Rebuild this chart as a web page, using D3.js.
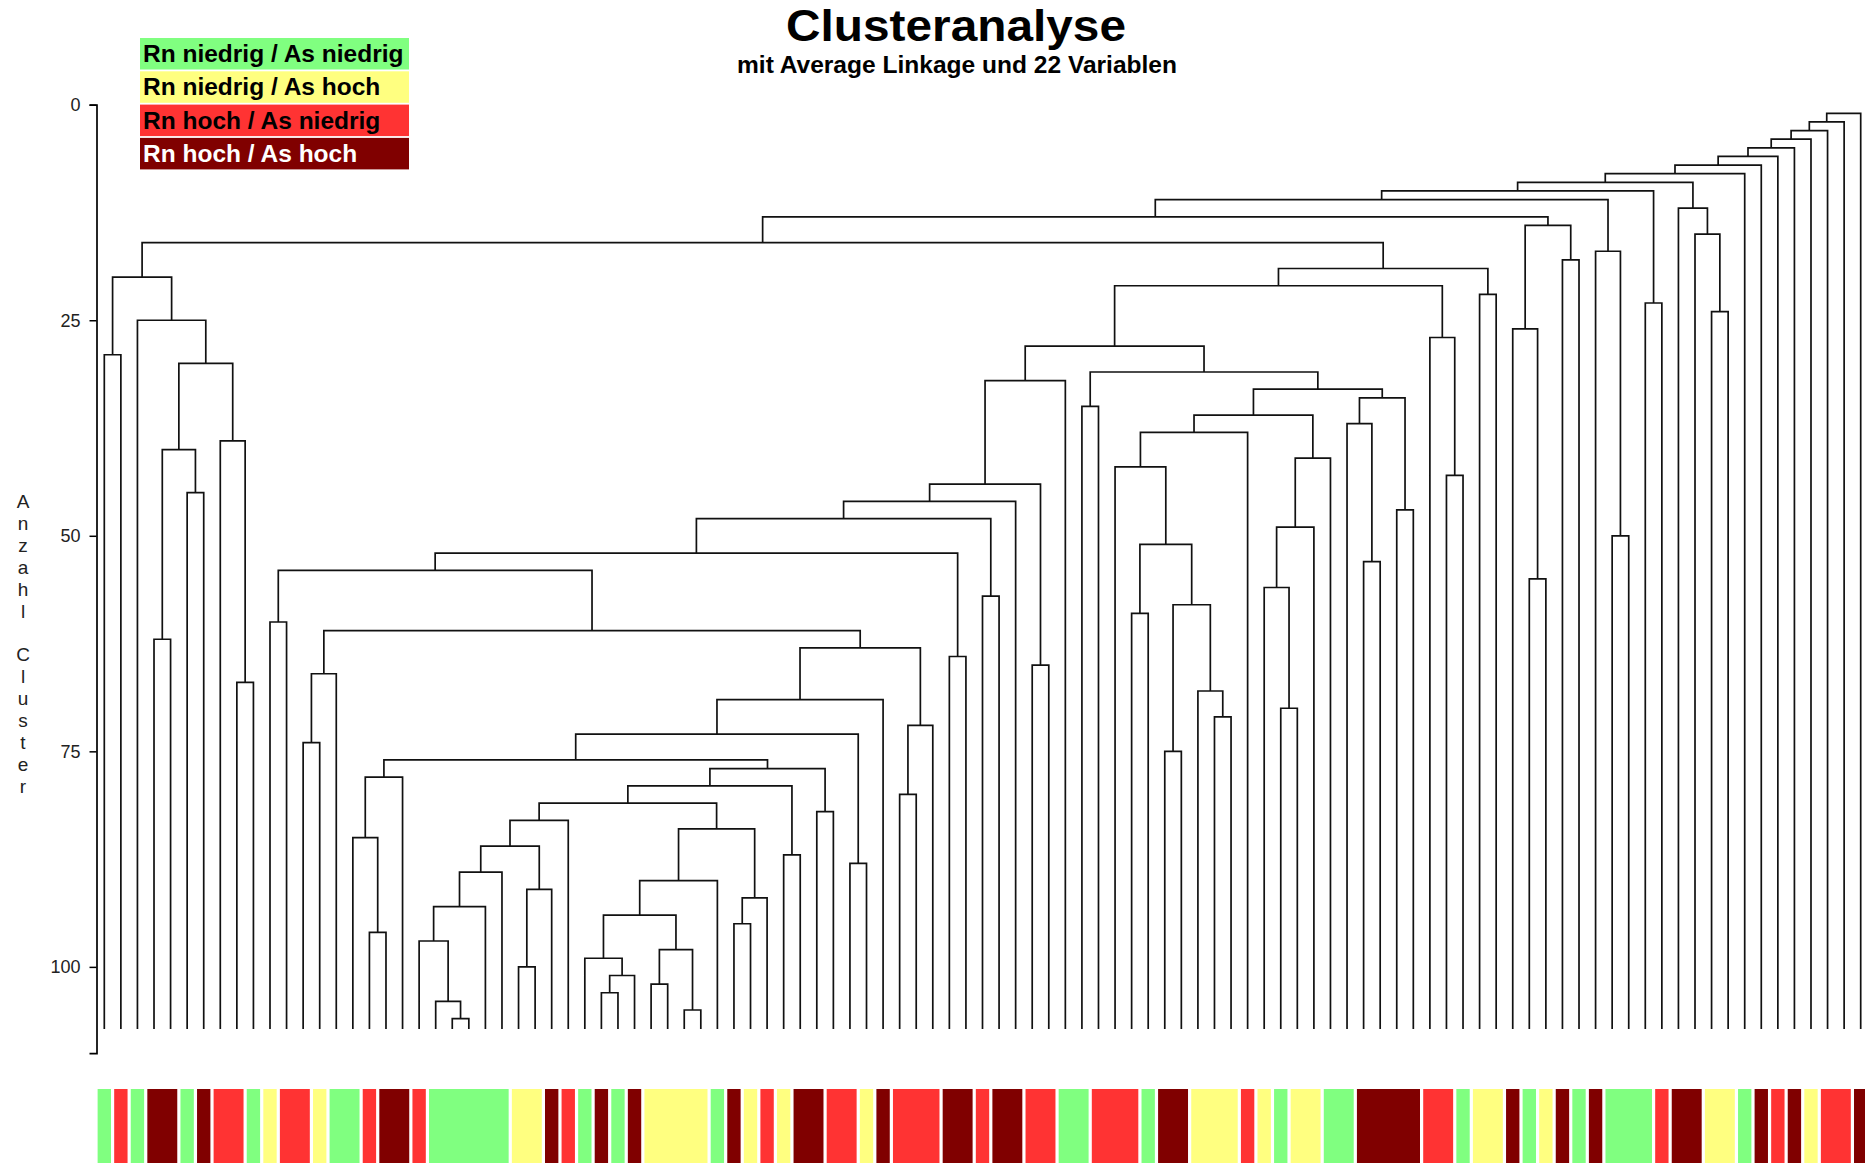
<!DOCTYPE html>
<html>
<head>
<meta charset="utf-8">
<script src="https://cdn.jsdelivr.net/npm/d3@7"></script>
<style>
  body { margin: 0; background: #fff; }
  svg { display: block; font-family: "Liberation Sans", Arial, sans-serif; }
</style>
</head>
<body>
<div class="my-graph"></div>
<script>
const categories = ['Rn niedrig / As niedrig', 'Rn niedrig / As hoch', 'Rn hoch / As niedrig', 'Rn hoch / As hoch']
const categoryColors = ['#80ff80', '#ffff80', '#ff3333', '#800000']
const legendTextColors = ['#000', '#000', '#000', '#fff']

// category of every leaf, left to right (index into categories)
const leafGroup = [
  0, 2, 0, 3, 3, 0, 3, 2, 2, 0,
  1, 2, 2, 1, 0, 0, 2, 3, 3, 2,
  0, 0, 0, 0, 0, 1, 1, 3, 2, 0,
  3, 0, 3, 1, 1, 1, 1, 0, 3, 1,
  2, 1, 3, 3, 2, 2, 1, 3, 2, 2,
  2, 3, 3, 2, 3, 3, 2, 2, 0, 0,
  2, 2, 2, 0, 3, 3, 1, 1, 1, 2,
  1, 0, 1, 1, 0, 0, 3, 3, 3, 3,
  2, 2, 0, 1, 1, 3, 0, 1, 3, 0,
  3, 0, 0, 0, 2, 3, 3, 1, 1, 0,
  3, 2, 3, 1, 2, 2, 3
]

// merge steps: [clusters left after the merge, left part, right part]
// a number is a leaf position, "c12" is the cluster formed at level 12
const merges = [
  [1, 'c2', 106], [2, 'c3', 105], [3, 'c4', 104], [4, 'c5', 103],
  [5, 'c6', 102], [6, 'c7', 101], [7, 'c8', 100], [8, 'c9', 99],
  [9, 'c10', 'c12'], [10, 'c11', 'c23'], [11, 'c13', 'c17'], [12, 95, 'c15'],
  [13, 'c16', 'c14'], [14, 'c26', 'c18'], [15, 96, 'c24'], [16, 'c20', 'c19'],
  [17, 90, 'c50'], [18, 88, 89], [19, 'c21', 'c22'], [20, 'c29', 'c25'],
  [21, 'c28', 'c27'], [22, 83, 84], [23, 93, 94], [24, 97, 98],
  [25, 2, 'c30'], [26, 85, 'c55'], [27, 80, 'c43'], [28, 'c32', 'c31'],
  [29, 0, 1], [30, 'c40', 'c39'], [31, 'c35', 'c33'], [32, 'c44', 58],
  [33, 'c36', 'c34'], [34, 'c37', 'c47'], [35, 59, 60], [36, 'c38', 'c41'],
  [37, 75, 'c53'], [38, 'c42', 69], [39, 7, 'c67'], [40, 'c62', 'c45'],
  [41, 'c49', 74], [42, 61, 'c51'], [43, 81, 82], [44, 'c46', 'c65'],
  [45, 5, 6], [46, 'c48', 55], [47, 78, 79], [48, 'c52', 'c57'],
  [49, 'c56', 73], [50, 91, 92], [51, 'c59', 'c58'], [52, 'c54', 'c64'],
  [53, 76, 77], [54, 'c60', 'c61'], [55, 86, 87], [56, 70, 'c70'],
  [57, 53, 54], [58, 'c75', 'c68'], [59, 62, 63], [60, 10, 11],
  [61, 'c66', 'c63'], [62, 3, 4], [63, 'c69', 'c72'], [64, 51, 52],
  [65, 56, 57], [66, 'c74', 14], [67, 8, 9], [68, 66, 'c71'],
  [69, 'c73', 47], [70, 71, 72], [71, 67, 68], [72, 'c80', 50],
  [73, 'c76', 'c88'], [74, 12, 13], [75, 64, 65], [76, 'c78', 'c77'],
  [77, 'c79', 'c82'], [78, 'c85', 18], [79, 'c81', 'c87'], [80, 48, 49],
  [81, 'c83', 'c84'], [82, 43, 44], [83, 'c86', 28], [84, 'c90', 'c92'],
  [85, 15, 'c96'], [86, 'c89', 'c91'], [87, 41, 42], [88, 45, 46],
  [89, 'c93', 24], [90, 'c94', 37], [91, 'c100', 27], [92, 'c95', 40],
  [93, 'c97', 23], [94, 'c99', 'c98'], [95, 38, 39], [96, 16, 17],
  [97, 19, 'c104'], [98, 'c102', 'c105'], [99, 29, 'c101'], [100, 25, 26],
  [101, 'c103', 32], [102, 33, 34], [103, 30, 31], [104, 20, 'c106'],
  [105, 35, 36], [106, 21, 22]
]

const yTicks = [0, 25, 50, 75, 100]
const leafLevel = 107.2
const axisLabel = 'Anzahl Cluster'
const title = 'Clusteranalyse'
const subtitle = 'mit Average Linkage und 22 Variablen'

const drawGraph = () => {
  const width = 1865
  const height = 1163

  const svg = d3.select('.my-graph')
    .append('svg')
    .attr('width', width)
    .attr('height', height)

  const xScale = d3.scalePoint()
    .domain(d3.range(leafGroup.length))
    .range([104.3, 1860.7])

  const yScale = d3.scaleLinear()
    .domain([0, 110])
    .range([104.7, 1053.1])

  // build the tree, lowest merges first
  const nodes = {}
  const toNode = ref => typeof ref === 'number' ? { leaf: ref, level: leafLevel } : nodes[ref]
  merges.slice().sort((a, b) => b[0] - a[0]).forEach(([level, a, b]) => {
    nodes['c' + level] = { level: level, children: [toNode(a), toNode(b)] }
  })
  const root = d3.hierarchy(nodes.c1)
  root.eachAfter(d => {
    d.px = d.children ? d3.mean(d.children, c => c.px) : xScale(d.data.leaf)
  })

  // dendrogram brackets
  svg.append('g')
    .selectAll('path')
    .data(root.descendants().filter(d => d.children))
    .join('path')
    .attr('fill', 'none')
    .attr('stroke', '#111')
    .attr('stroke-width', 1.7)
    .attr('d', d => {
      const [a, b] = d.children
      return `M${a.px},${yScale(a.data.level)}V${yScale(d.data.level)}H${b.px}V${yScale(b.data.level)}`
    })

  // y axis
  const axis = svg.append('g')
    .attr('transform', 'translate(96.5,0)')
    .call(d3.axisLeft(yScale).tickValues(yTicks).tickSize(7).tickPadding(9))
  axis.select('.domain').attr('stroke', '#000').attr('stroke-width', 1.7)
  axis.selectAll('.tick line').attr('stroke', '#000').attr('stroke-width', 1.5)
  axis.selectAll('.tick text')
    .attr('font-size', 18)
    .attr('font-family', '"Liberation Sans", Arial, sans-serif')
    .attr('fill', '#222')

  // stacked axis label
  svg.append('g')
    .selectAll('text')
    .data(axisLabel.split(''))
    .join('text')
    .attr('x', 23)
    .attr('y', (c, i) => 508 + i * 21.9)
    .attr('text-anchor', 'middle')
    .attr('font-size', 19)
    .attr('fill', '#222')
    .text(c => c)

  // colour strip below the leaves, one block per run of equal category
  const step = xScale.step()
  const runs = []
  leafGroup.forEach((g, i) => {
    const last = runs[runs.length - 1]
    if (last && last.group === g) last.end = i
    else runs.push({ group: g, start: i, end: i })
  })
  svg.append('g')
    .selectAll('rect')
    .data(runs)
    .join('rect')
    .attr('x', d => xScale(d.start) - step / 2 + 1.6)
    .attr('width', d => xScale(d.end) - xScale(d.start) + step - 3.2)
    .attr('y', 1089)
    .attr('height', height - 1089)
    .attr('fill', d => categoryColors[d.group])

  // legend
  const legend = svg.append('g')
    .selectAll('g')
    .data(categories)
    .join('g')
    .attr('transform', (d, i) => `translate(140,${38 + i * 33.3})`)
  legend.append('rect')
    .attr('width', 269)
    .attr('height', 31.5)
    .attr('fill', (d, i) => categoryColors[i])
  legend.append('text')
    .attr('x', 3)
    .attr('y', 24)
    .attr('font-size', 24.5)
    .attr('font-weight', 'bold')
    .attr('fill', (d, i) => legendTextColors[i])
    .text(d => d)

  // titles
  svg.append('text')
    .attr('x', 956)
    .attr('y', 41)
    .attr('text-anchor', 'middle')
    .attr('font-size', 45)
    .attr('font-weight', 'bold')
    .attr('textLength', 340)
    .attr('lengthAdjust', 'spacingAndGlyphs')
    .text(title)
  svg.append('text')
    .attr('x', 957)
    .attr('y', 73)
    .attr('text-anchor', 'middle')
    .attr('font-size', 24)
    .attr('font-weight', 'bold')
    .attr('textLength', 440)
    .attr('lengthAdjust', 'spacingAndGlyphs')
    .text(subtitle)
}

drawGraph()
</script>
</body>
</html>
